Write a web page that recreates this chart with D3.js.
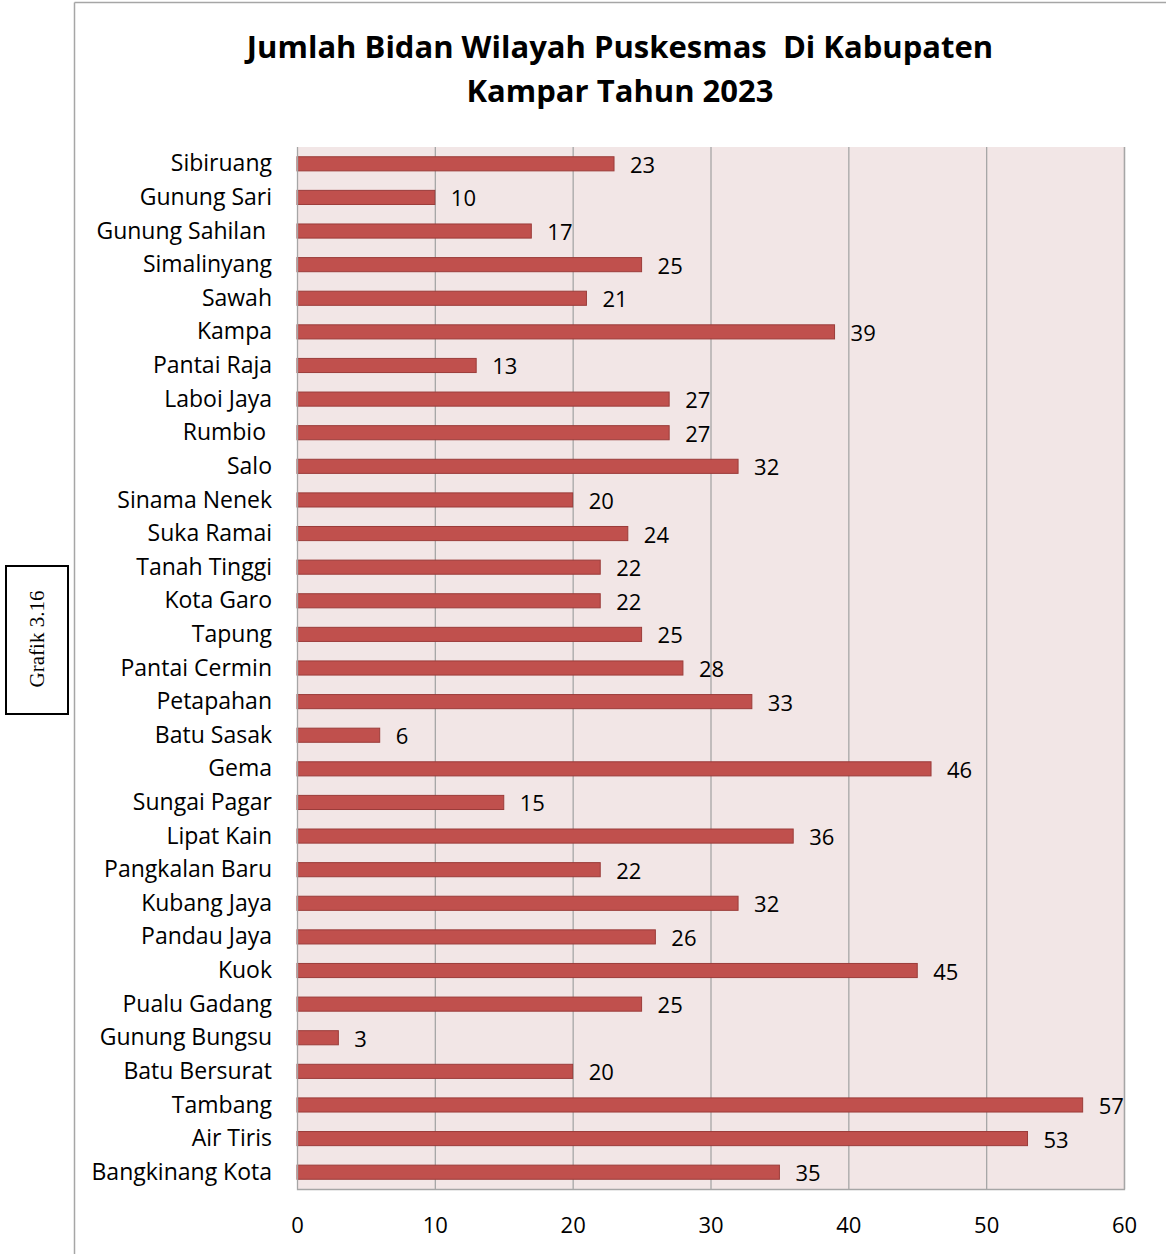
<!DOCTYPE html>
<html><head><meta charset="utf-8">
<script src="https://cdn.jsdelivr.net/npm/d3@7"></script>
<style>body{margin:0;background:#fff}svg{display:block}text{white-space:pre}</style>
</head><body>
<script>
const categories = ["Sibiruang","Gunung Sari","Gunung Sahilan ","Simalinyang","Sawah","Kampa","Pantai Raja","Laboi Jaya","Rumbio ","Salo","Sinama Nenek","Suka Ramai","Tanah Tinggi","Kota Garo","Tapung","Pantai Cermin","Petapahan","Batu Sasak","Gema","Sungai Pagar","Lipat Kain","Pangkalan Baru","Kubang Jaya","Pandau Jaya","Kuok","Pualu Gadang","Gunung Bungsu","Batu Bersurat","Tambang","Air Tiris","Bangkinang Kota"];
const values = [23,10,17,25,21,39,13,27,27,32,20,24,22,22,25,28,33,6,46,15,36,22,32,26,45,25,3,20,57,53,35];
const xTicks = [0,10,20,30,40,50,60];
const titleLines = ["Jumlah Bidan Wilayah Puskesmas  Di Kabupaten","Kampar Tahun 2023"];
const sideLabel = "Grafik 3.16";

const W=1166,H=1254;
const svg=d3.select("body").append("svg").attr("width",W).attr("height",H);
const font="'Open Sans','Noto Sans',sans-serif";

// outer frame
svg.append("line").attr("x1",74.5).attr("x2",74.5).attr("y1",2.5).attr("y2",H).attr("stroke","#a6a6a6").attr("stroke-width",1.5);
svg.append("line").attr("x1",74.5).attr("x2",W).attr("y1",2.5).attr("y2",2.5).attr("stroke","#a6a6a6").attr("stroke-width",1.5);

// side box
svg.append("rect").attr("x",6).attr("y",566).attr("width",62).attr("height",148).attr("fill","#fff").attr("stroke","#000").attr("stroke-width",2);
svg.append("text").attr("transform","translate(43.5,639) rotate(-90)").attr("text-anchor","middle")
  .attr("font-family","'Liberation Serif','DejaVu Serif',serif").attr("font-size",21).text(sideLabel);

// title
svg.append("g").selectAll("text").data(titleLines).join("text")
  .attr("x",620).attr("y",(d,i)=>58+i*44).attr("text-anchor","middle")
  .attr("font-family",font).attr("font-weight","bold").attr("font-size",31).attr("fill","#000").text(d=>d);

const L=297,R=1124,T=147,B=1189;
const x=d3.scaleLinear().domain([0,60]).range([L,R]);
const y=d3.scaleBand().domain(categories).range([T,B]).paddingInner(0.58).paddingOuter(0.29);

svg.append("rect").attr("x",L).attr("y",T).attr("width",R-L).attr("height",B-T).attr("fill","#f2e6e6");

// gridlines
svg.append("g").selectAll("line").data(xTicks.slice(1)).join("line")
  .attr("x1",d=>x(d)+0.5).attr("x2",d=>x(d)+0.5).attr("y1",T).attr("y2",B)
  .attr("stroke","#a6a6a6").attr("stroke-width",1.3);

// bars
svg.append("g").selectAll("rect").data(values).join("rect")
  .attr("x",x(0)).attr("y",(d,i)=>y(categories[i])).attr("width",d=>x(d)-x(0)).attr("height",y.bandwidth())
  .attr("fill","#c0504d").attr("stroke","#9b3c3a").attr("stroke-width",1);

// plot border (left + bottom + right)
svg.append("path").attr("d",`M${L+0.5},${T}V${B+0.5}H${R+0.5}V${T}`).attr("fill","none").attr("stroke","#a6a6a6").attr("stroke-width",1.3);

// value labels
svg.append("g").selectAll("text").data(values).join("text")
  .attr("x",d=>x(d)+16).attr("y",(d,i)=>y(categories[i])+y.bandwidth()/2+9)
  .attr("font-family",font).attr("font-size",22).attr("fill","#000").text(d=>d);

// category axis
const yAxis=d3.axisLeft(y).tickSize(0).tickPadding(25);
const ga=svg.append("g").attr("transform",`translate(${L},0)`).call(yAxis);
ga.select(".domain").remove();
ga.selectAll("text").attr("font-family",font).attr("font-size",23).attr("fill","#000").attr("dy","0.33em");

// x axis
const xAxis=d3.axisBottom(x).tickValues(xTicks).tickSize(0).tickPadding(28);
const gx=svg.append("g").attr("transform",`translate(0,${B})`).call(xAxis);
gx.select(".domain").remove();
gx.selectAll("text").attr("font-family",font).attr("font-size",22).attr("fill","#000");
</script>
</body></html>
